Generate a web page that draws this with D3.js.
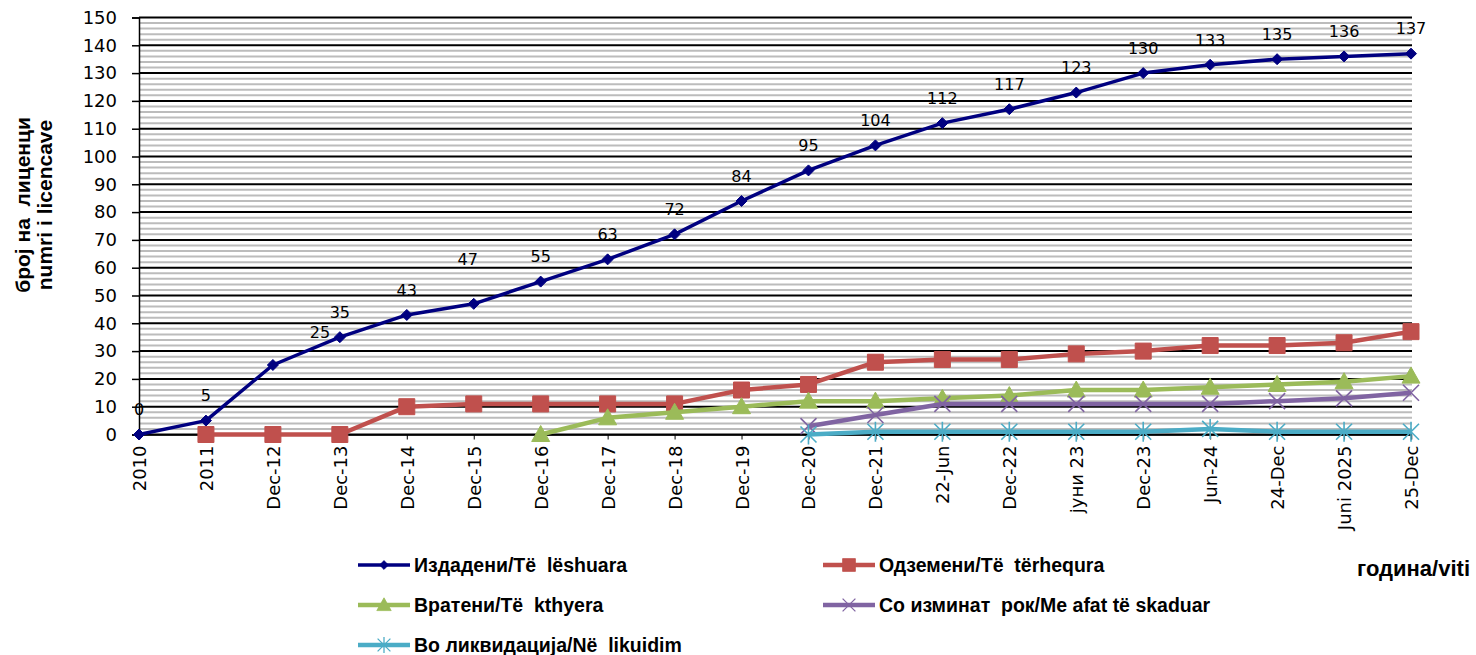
<!DOCTYPE html>
<html><head><meta charset="utf-8">
<script src="https://cdn.jsdelivr.net/npm/d3@7"></script>
<style>
html,body{margin:0;padding:0;background:#fff;}
svg{display:block;}
text{white-space:pre;}
</style>
</head><body>
<svg id="chart" width="1476" height="655"></svg>
<script>
const categories = ["2010","2011","Dec-12","Dec-13","Dec-14","Dec-15","Dec-16","Dec-17","Dec-18","Dec-19","Dec-20","Dec-21","22-Jun","Dec-22","јуни 23","Dec-23","Jun-24","24-Dec","Juni 2025","25-Dec"];
const issued    = [0,5,25,35,43,47,55,63,72,84,95,104,112,117,123,130,133,135,136,137];
const withdrawn = [null,0,0,0,10,11,11,11,11,16,18,26,27,27,29,30,32,32,33,37];
const returned  = [null,null,null,null,null,null,0,6,8,10,12,12,13,14,16,16,17,18,19,21];
const expired   = [null,null,null,null,null,null,null,null,null,null,3,7,11,11,11,11,11,12,13,15];
const liquid    = [null,null,null,null,null,null,null,null,null,null,0,1,1,1,1,1,2,1,1,1];
const yTicks = [0,10,20,30,40,50,60,70,80,90,100,110,120,130,140,150];
const seriesNames = ["Издадени/Të  lëshuara","Одземени/Të  tërhequra","Вратени/Të  kthyera","Со изминат  рок/Me afat të skaduar","Во ликвидација/Në  likuidim"];
const yTitle = ["број на  лиценци","numri i licencave"];
const xTitle = "година/viti";

const colors = ["#000080","#C0504D","#9BBB59","#8064A2","#4BACC6"];
const markers = ["diamond","square","triangle","x","star"];
const widths = [3.5,4.5,4.5,4.5,4.5];
const allSeries = [issued, withdrawn, returned, expired, liquid];

const svg = d3.select("#chart");
const L = 139, R = 1411, T = 17.5, B = 434.5;
const x = d3.scalePoint().domain(categories).range([L, R]).padding(0);
const y = d3.scaleLinear().domain([0,150]).range([B, T]);

// minor pattern lines
const minor = d3.range(2,150,2).filter(v => v % 10 !== 0);
svg.append("g").selectAll("line").data(minor).join("line")
  .attr("x1", L).attr("x2", R + 1).attr("y1", d => y(d)).attr("y2", d => y(d))
  .attr("stroke", "#bcbcbc").attr("stroke-width", 2);
// major gridlines
svg.append("g").selectAll("line").data(yTicks).join("line")
  .attr("x1", L).attr("x2", R + 1).attr("y1", d => y(d)).attr("y2", d => y(d))
  .attr("stroke", "#000").attr("stroke-width", 2);

// y axis
const yAxis = svg.append("g").attr("transform", `translate(${L},0)`)
  .call(d3.axisLeft(y).tickValues(yTicks).tickSize(7).tickPadding(15));
yAxis.select(".domain").attr("stroke", "#000").attr("stroke-width", 1.5);
yAxis.selectAll(".tick line").attr("stroke", "#000").attr("stroke-width", 1.5);
yAxis.selectAll(".tick text").attr("font-family", "DejaVu Sans").attr("font-size", 18).attr("fill", "#000");

// x axis
const xAxis = svg.append("g").attr("transform", `translate(0,${B})`)
  .call(d3.axisBottom(x).tickSize(5).tickPadding(0));
xAxis.select(".domain").attr("stroke", "#000").attr("stroke-width", 1.5);
xAxis.selectAll(".tick line").attr("stroke", "#000").attr("stroke-width", 1);
xAxis.selectAll(".tick text")
  .attr("font-family", "DejaVu Sans").attr("font-size", 18).attr("fill", "#000")
  .attr("text-anchor", "end").attr("transform", "translate(0,11) rotate(-90)")
  .attr("x", 0).attr("y", 0).attr("dy", "0.36em");

// markers
function markerPath(type) {
  if (type === "diamond") return "M0,-5.5L5.5,0L0,5.5L-5.5,0Z";
  if (type === "square") return "M-8,-8H8V8H-8Z";
  if (type === "triangle") return "M0,-9L9,7H-9Z";
  if (type === "x") return "M-8,-8L8,8M-8,8L8,-8";
  if (type === "star") return "M-8,-8L8,8M-8,8L8,-8M0,-10V10";
  return "";
}

allSeries.forEach((vals, si) => {
  const pts = vals.map((v, i) => ({c: categories[i], v})).filter(d => d.v !== null);
  const line = d3.line().x(d => x(d.c)).y(d => y(d.v));
  svg.append("path").datum(pts).attr("d", line)
    .attr("fill", "none").attr("stroke", colors[si]).attr("stroke-width", widths[si])
    .attr("stroke-linejoin", "round");
  const isLine = markers[si] === "x" || markers[si] === "star";
  svg.append("g").selectAll("path").data(pts).join("path")
    .attr("transform", d => `translate(${x(d.c)},${y(d.v)})`)
    .attr("d", markerPath(markers[si]))
    .attr("fill", isLine ? "none" : colors[si])
    .attr("stroke", colors[si]).attr("stroke-width", isLine ? 1.6 : 1);
});

// data labels for issued series
const labelNudge = {2: [47, -8], 5: [-6, -20]};
svg.append("g").selectAll("text").data(issued).join("text")
  .attr("x", (d, i) => x(categories[i]) + (labelNudge[i] ? labelNudge[i][0] : 0))
  .attr("y", (d, i) => y(d) - 25 + (labelNudge[i] ? labelNudge[i][1] : 0))
  .attr("dy", "0.36em").attr("text-anchor", "middle")
  .attr("font-family", "DejaVu Sans").attr("font-size", 16).attr("fill", "#000")
  .text(d => d);

// y title
const yt = svg.append("g").attr("transform", "translate(0,205) rotate(-90)");
yt.selectAll("text").data(yTitle).join("text")
  .attr("x", 0).attr("y", (d, i) => 22 + i * 22).attr("dy", "0.36em")
  .attr("text-anchor", "middle").attr("font-family", "Liberation Sans")
  .attr("font-weight", "bold").attr("font-size", 21).attr("fill", "#000")
  .text(d => d);

// x title
svg.append("text").attr("x", 1470).attr("y", 568).attr("dy", "0.36em")
  .attr("text-anchor", "end").attr("font-family", "Liberation Sans")
  .attr("font-weight", "bold").attr("font-size", 22).attr("fill", "#000")
  .text(xTitle);

// legend
const legPos = [[358,565],[823,565],[358,605],[823,605],[358,645]];
seriesNames.forEach((name, si) => {
  const [lx, ly] = legPos[si];
  const g = svg.append("g").attr("transform", `translate(${lx},${ly})`);
  g.append("line").attr("x1", 0).attr("x2", 52).attr("y1", 0).attr("y2", 0)
    .attr("stroke", colors[si]).attr("stroke-width", widths[si]);
  const isLine = markers[si] === "x" || markers[si] === "star";
  g.append("path").attr("transform", "translate(26,0) scale(0.8)")
    .attr("d", markerPath(markers[si]))
    .attr("fill", isLine ? "none" : colors[si])
    .attr("stroke", colors[si]).attr("stroke-width", isLine ? 1.6 : 1);
  g.append("text").attr("x", 56).attr("y", 0).attr("dy", "0.36em")
    .attr("font-family", "Liberation Sans").attr("font-weight", "bold")
    .attr("font-size", 19.5).attr("fill", "#000").text(name);
});
</script>
</body></html>
